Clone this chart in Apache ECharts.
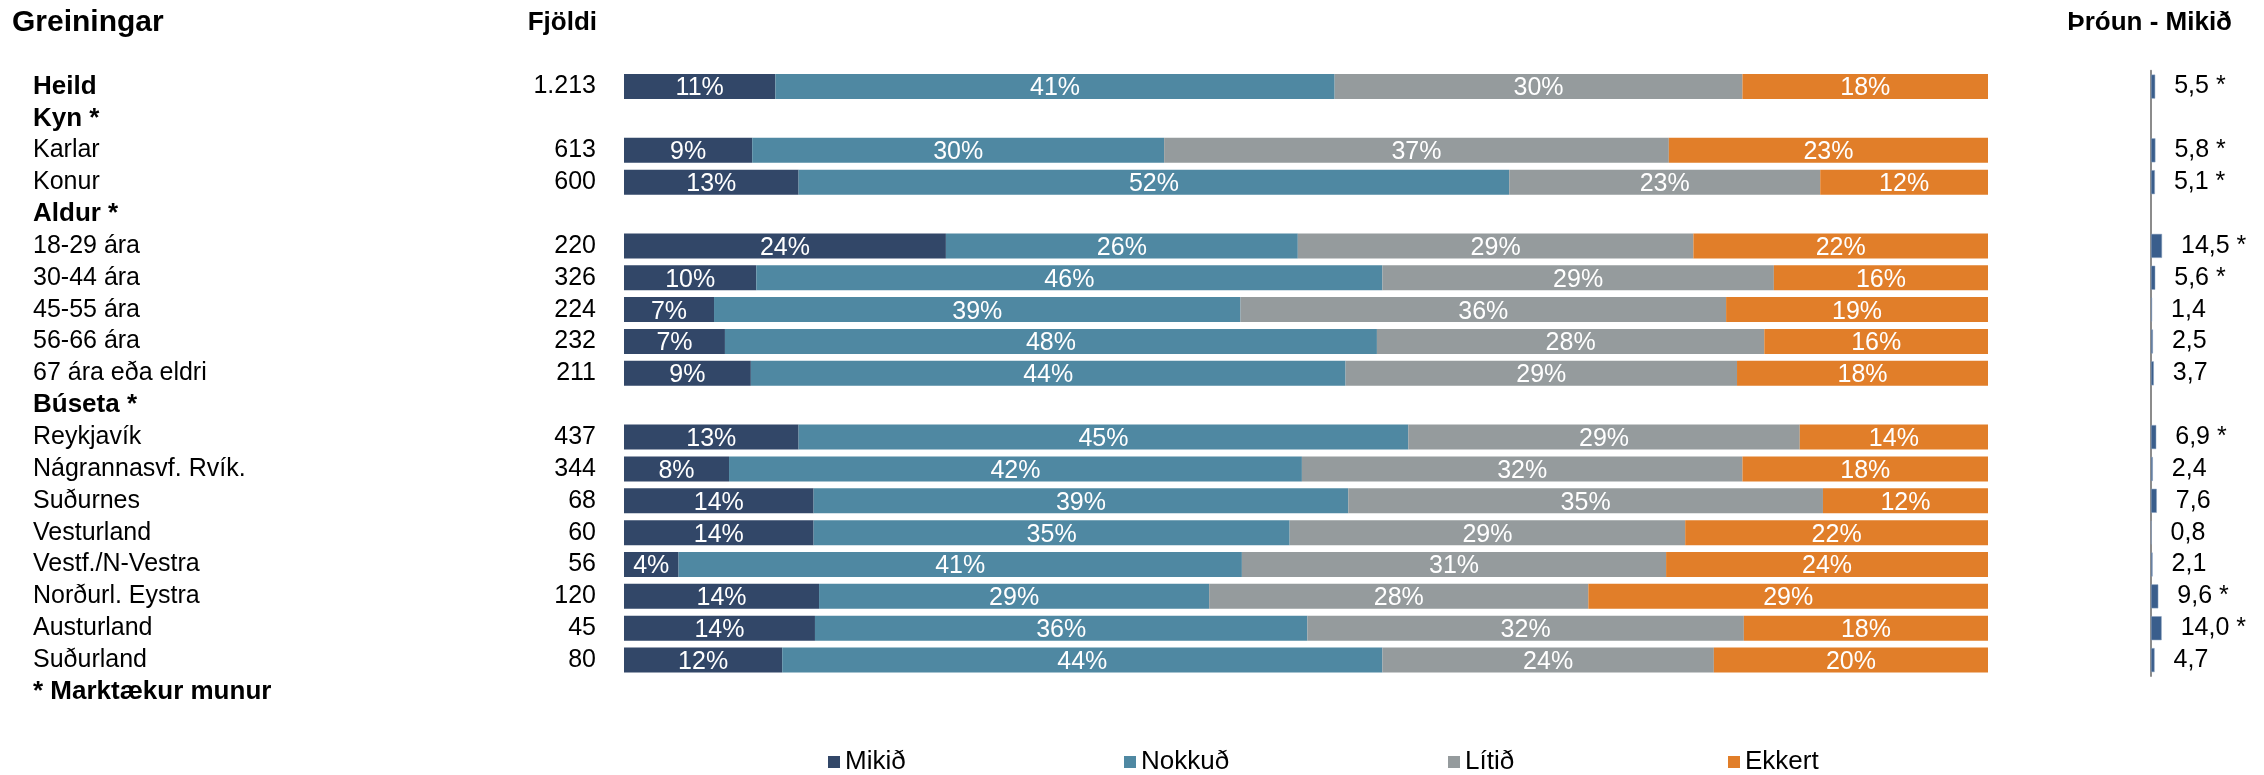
<!DOCTYPE html>
<html>
<head>
<meta charset="utf-8">
<script src="https://cdn.jsdelivr.net/npm/echarts@6/dist/echarts.min.js"></script>
<style>
html,body{margin:0;padding:0;background:#fff;}
#chart{width:2264px;height:775px;}
</style>
</head>
<body>
<div id="chart"></div>
<script>
const categories = ['Heild','Kyn *','Karlar','Konur','Aldur *','18-29 ára','30-44 ára','45-55 ára','56-66 ára','67 ára eða eldri','Búseta *','Reykjavík','Nágrannasvf. Rvík.','Suðurnes','Vesturland','Vestf./N-Vestra','Norðurl. Eystra','Austurland','Suðurland','* Marktækur munur'];
const headerRows = ['Heild','Kyn *','Aldur *','Búseta *','* Marktækur munur'];
const counts = ['1.213','','613','600','','220','326','224','232','211','','437','344','68','60','56','120','45','80',''];
const seriesNames = ['Mikið','Nokkuð','Lítið','Ekkert'];
const mikid  = [11.1,null, 9.4,12.8,null,23.6, 9.7, 6.6, 7.4, 9.3,null,12.8, 7.7,13.9,13.9, 4.0,14.3,14.0,11.6,null];
const nokkud = [41.0,null,30.2,52.1,null,25.8,45.9,38.6,47.8,43.6,null,44.7,42.0,39.2,34.9,41.3,28.6,36.1,44.0,null];
const litid  = [29.9,null,37.0,22.8,null,29.0,28.7,35.6,28.4,28.7,null,28.7,32.3,34.8,29.0,31.1,27.8,32.0,24.3,null];
const ekkert = [18.0,null,23.4,12.3,null,21.6,15.7,19.2,16.4,18.4,null,13.8,18.0,12.1,22.2,23.6,29.3,17.9,20.1,null];
const trendCategories = categories.slice(0, 19);
const trend = [5.5,null,5.8,5.1,null,14.5,5.6,1.4,2.5,3.7,null,6.9,2.4,7.6,0.8,2.1,9.6,14.0,4.7];
const trendSig = [1,0,1,1,0,1,1,0,0,0,0,1,0,0,0,0,1,1,0];

const FONT = '"Liberation Sans", Arial, sans-serif';
const colors = ['#324768','#4F88A2','#959B9D','#E17E29'];
const rowH = 31.86;
const top0 = 86.6 - rowH/2;

const chart = echarts.init(document.getElementById('chart'));
const stackData = [mikid, nokkud, litid, ekkert];
const legendLefts = [828, 1124, 1448, 1728];

const option = {
  backgroundColor: '#fff',
  textStyle: {fontFamily: FONT},
  title: [
    {text: 'Greiningar', left: 12, top: 8, padding: 0, textStyle: {fontFamily: FONT, fontSize: 30, fontWeight: 'bold', color: '#000'}},
    {text: 'Fjöldi', right: 2264 - 597, top: 10, padding: 0, textStyle: {fontFamily: FONT, fontSize: 26, fontWeight: 'bold', color: '#000'}},
    {text: 'Þróun - Mikið', right: 32, top: 10, padding: 0, textStyle: {fontFamily: FONT, fontSize: 26, fontWeight: 'bold', color: '#000'}}
  ],
  legend: seriesNames.map((n, i) => ({
    data: [n], left: legendLefts[i], top: 749, padding: 0, itemGap: 0,
    itemWidth: 12, itemHeight: 12, icon: 'rect',
    textStyle: {fontFamily: FONT, fontSize: 26, color: '#000'},
    selectedMode: false
  })),
  grid: [
    {left: 624, width: 1364, top: top0, height: rowH * 20},
    {left: 2151, width: 76, top: top0, height: rowH * 19}
  ],
  xAxis: [
    {type: 'value', gridIndex: 0, min: 0, max: 100, show: false},
    {type: 'value', gridIndex: 1, min: 0, max: 100, show: false}
  ],
  yAxis: [
    {type: 'category', gridIndex: 0, data: categories, inverse: true, position: 'left',
     axisLine: {show: false}, axisTick: {show: false},
     axisLabel: {interval: 0, margin: 591, align: 'left', color: '#000', fontFamily: FONT, fontSize: 25,
       formatter: v => headerRows.includes(v) ? '{b|' + v + '}' : '{n|' + v + '}',
       rich: {b: {fontFamily: FONT, fontSize: 26, fontWeight: 'bold', color: '#000'},
              n: {fontFamily: FONT, fontSize: 25, color: '#000'}}}},
    {type: 'category', gridIndex: 0, data: categories, inverse: true, position: 'left', offset: 0,
     axisLine: {show: false}, axisTick: {show: false},
     axisLabel: {interval: 0, margin: 28, align: 'right', color: '#000', fontFamily: FONT, fontSize: 25,
       formatter: (v, i) => counts[i]}},
    {type: 'category', gridIndex: 1, data: trendCategories, inverse: true, position: 'left',
     axisLine: {show: true, lineStyle: {color: '#8c8c8c', width: 2}}, axisTick: {show: false},
     axisLabel: {show: false}}
  ],
  series: seriesNames.map((n, i) => ({
    name: n, type: 'bar', stack: 'total', xAxisIndex: 0, yAxisIndex: 0,
    data: stackData[i], barWidth: 25,
    itemStyle: {color: colors[i]},
    label: {show: true, position: 'inside', offset: [0, 2], color: '#fff', fontFamily: FONT, fontSize: 25,
      formatter: p => p.value == null ? '' : Math.round(p.value) + '%'}
  })).concat([{
    name: 'Þróun', type: 'bar', xAxisIndex: 1, yAxisIndex: 2, data: trend, barWidth: 24,
    itemStyle: {color: '#3A5E8C', borderColor: '#8fa5c0', borderWidth: 0.5},
    label: {show: true, position: 'right', distance: 19, color: '#000', fontFamily: FONT, fontSize: 25,
      formatter: p => p.value == null ? '' : p.value.toFixed(1).replace('.', ',') + (trendSig[p.dataIndex] ? ' *' : '')}
  }])
};
chart.setOption(option);
</script>
</body>
</html>
